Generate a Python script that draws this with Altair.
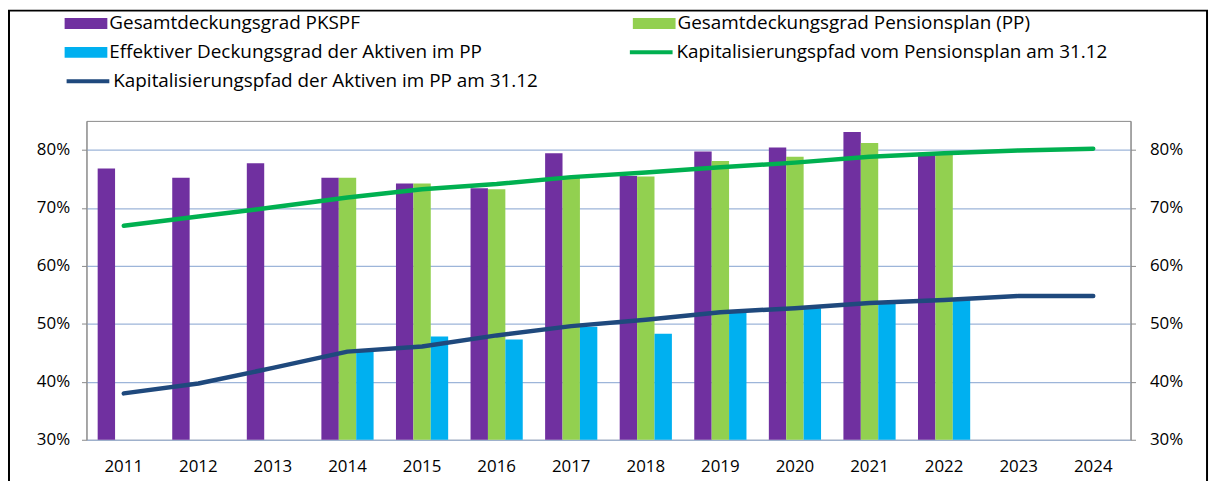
import altair as alt
import pandas as pd

years = [str(y) for y in range(2011, 2025)]
series_names = [
    "Gesamtdeckungsgrad PKSPF",
    "Gesamtdeckungsgrad Pensionsplan (PP)",
    "Effektiver Deckungsgrad der Aktiven im PP",
    "Kapitalisierungspfad vom Pensionsplan am 31.12",
    "Kapitalisierungspfad der Aktiven im PP am 31.12",
]
colors = ["#7030A0", "#92D050", "#00B0F0", "#00B050", "#1F497D"]

pkspf = [76.8, 75.2, 77.7, 75.2, 74.2, 73.4, 79.4, 75.5, 79.7, 80.4, 83.1, 79.5, None, None]
pp = [None, None, None, 75.2, 74.2, 73.2, 75.3, 75.4, 78.1, 78.8, 81.2, 79.3, None, None]
eff = [None, None, None, 45.2, 47.8, 47.3, 49.5, 48.3, 52.0, 52.7, 53.6, 54.1, None, None]
kap_pp = [66.9, 68.5, 70.1, 71.8, 73.2, 74.1, 75.3, 76.1, 77.0, 77.8, 78.8, 79.4, 79.9, 80.2]
kap_akt = [38.0, 39.7, 42.4, 45.2, 46.1, 48.0, 49.6, 50.7, 52.0, 52.7, 53.6, 54.1, 54.8, 54.8]

y_ticks = [0.3, 0.4, 0.5, 0.6, 0.7, 0.8]

rows = []
for name, vals in zip(series_names, [pkspf, pp, eff, kap_pp, kap_akt]):
    for yr, v in zip(years, vals):
        if v is not None:
            rows.append({"year": yr, "series": name, "value": v / 100})
df = pd.DataFrame(rows)

FONT = "Open Sans"
GRAY = "#898989"
FS = 17
LFS = 19

x_enc = alt.X("year:N", sort=years,
              scale=alt.Scale(domain=years, paddingInner=0.3, paddingOuter=0.15),
              axis=alt.Axis(title=None, labelAngle=0, ticks=False, domain=False,
                            labelFont=FONT, labelFontSize=FS, labelColor="#000",
                            labelPadding=19))
y_scale = alt.Scale(domain=[0.3, 0.85], nice=False, zero=False)

common_legend = dict(
    title=None, orient="none", padding=0,
    labelFont=FONT, labelFontSize=LFS, labelColor="#000", labelLimit=700,
    labelOffset=25, symbolSize=400, rowPadding=9,
)

bar_legend = alt.Legend(
    legendX=-22, legendY=-108, columns=2, direction="horizontal",
    columnPadding=151, symbolType="M-1,-0.55H3.3V0.55H-1Z", symbolStrokeWidth=0,
    **common_legend,
)

bars = alt.Chart(df).transform_filter(
    alt.FieldOneOfPredicate(field="series", oneOf=series_names[:3])
).mark_bar(clip=True).encode(
    x=x_enc,
    xOffset=alt.XOffset("series:N", scale=alt.Scale(domain=series_names[:3])),
    y=alt.Y("value:Q", scale=y_scale,
            axis=alt.Axis(title=None, orient="left", values=y_ticks, format=".0%",
                          grid=True, gridColor="#9DB5D9", gridWidth=1.2,
                          domainColor=GRAY, tickColor=GRAY, tickSize=5,
                          labelFont=FONT, labelFontSize=FS, labelColor="#000",
                          labelPadding=12)),
    color=alt.Color("series:N", scale=alt.Scale(domain=series_names[:3], range=colors[:3]),
                    legend=bar_legend),
)


def line_layer(idx, lx, ly, right_axis):
    name = series_names[idx]
    lg = alt.Legend(legendX=lx, legendY=ly, symbolType="M-1,0H3.3",
                    symbolStrokeWidth=4, **common_legend)
    yaxis = (alt.Axis(title=None, orient="right", values=y_ticks, format=".0%",
                      grid=False, domainColor=GRAY, tickColor=GRAY, tickSize=5,
                      labelFont=FONT, labelFontSize=FS, labelColor="#000",
                      labelPadding=14)
             if right_axis else None)
    return alt.Chart(df).transform_filter(
        alt.datum.series == name
    ).mark_line(strokeWidth=4.5, strokeCap="round", strokeJoin="round").encode(
        x=x_enc,
        y=alt.Y("value:Q", scale=y_scale, axis=yaxis),
        stroke=alt.Stroke("series:N", scale=alt.Scale(domain=[name], range=[colors[idx]]),
                          legend=lg),
    )


line_pp = line_layer(3, 545, -81, True)
line_akt = line_layer(4, -22, -52, False)

frame = alt.Chart(pd.DataFrame({"f": [1]})).mark_rect(
    fill=None, stroke="#000", strokeWidth=2
).encode(
    x=alt.value(-78), x2=alt.value(1128), y=alt.value(-111), y2=alt.value(376)
)

chart = alt.layer(bars, line_pp, line_akt, frame).resolve_axis(
    y="independent"
).resolve_scale(stroke="independent").properties(
    width=1051, height=321,
    padding={"left": 79, "top": 112, "right": 81, "bottom": 60},
    autosize=alt.AutoSizeParams(type="none"),
    background="#ffffff",
).configure_view(stroke=GRAY, strokeWidth=1)

chart.save("out.html", embed_options={"renderer": "svg", "actions": False})
